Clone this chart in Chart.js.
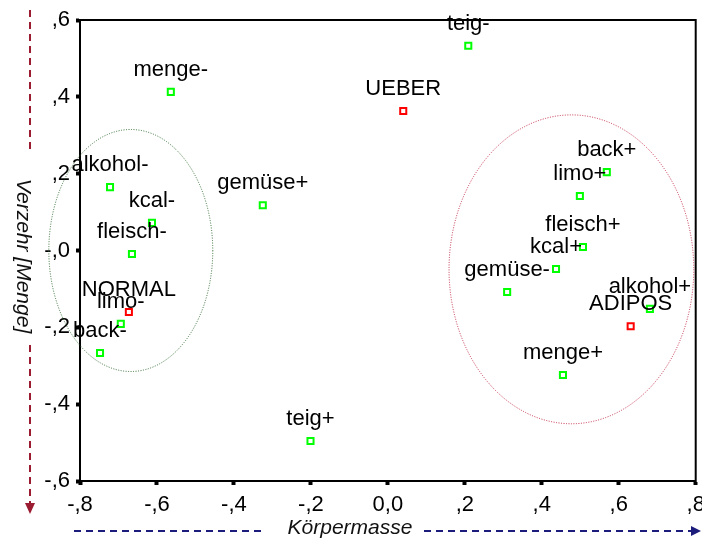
<!DOCTYPE html>
<html>
<head>
<meta charset="utf-8">
<script src="https://cdn.jsdelivr.net/npm/chart.js@4"></script>
<style>
  body { margin: 0; background: #fff; }
  canvas { display: block; }
</style>
</head>
<body>
<canvas id="chart" width="702" height="545"></canvas>
<script>
// category points (green) and group points (red)
const catNames = ['teig-', 'menge-', 'alkohol-', 'kcal-', 'fleisch-', 'gemüse+', 'limo-', 'back-', 'teig+',
  'back+', 'limo+', 'fleisch+', 'kcal+', 'gemüse-', 'alkohol+', 'menge+'];
const catX = [0.209, -0.564, -0.722, -0.613, -0.665, -0.325, -0.694, -0.748, -0.201,
  0.569, 0.499, 0.507, 0.437, 0.310, 0.681, 0.455];
const catY = [0.533, 0.413, 0.165, 0.072, -0.009, 0.118, -0.191, -0.267, -0.496,
  0.204, 0.142, 0.009, -0.048, -0.108, -0.152, -0.324];

const groupNames = ['UEBER', 'NORMAL', 'ADIPOS'];
const groupX = [0.040, -0.673, 0.631];
const groupY = [0.363, -0.160, -0.197];

// dotted cluster ellipses (data units)
const clusterCenterX = [-0.668, 0.477];
const clusterCenterY = [0.0, -0.049];
const clusterRadiusX = [0.213, 0.318];
const clusterRadiusY = [0.315, 0.402];
const clusterColors = ['rgba(40,100,40,0.9)', 'rgba(190,30,60,0.9)'];

const xTickLabels = ['-,8', '-,6', '-,4', '-,2', '0,0', ',2', ',4', ',6', ',8'];
const yTickLabels = ['-,6', '-,4', '-,2', '-,0', ',2', ',4', ',6'];

const xTitle = 'Körpermasse';
const yTitle = 'Verzehr [Menge]';

const fontFamily = "'Liberation Sans', Arial, sans-serif";

const toPoints = (xs, ys) => xs.map((x, i) => ({ x: x, y: ys[i] }));

const decorPlugin = {
  id: 'decor',
  beforeDraw(chart) {
    const ctx = chart.ctx;
    ctx.save();
    ctx.fillStyle = '#fff';
    ctx.fillRect(0, 0, chart.width, chart.height);
    ctx.restore();
  },
  beforeDatasetsDraw(chart) {
    const ctx = chart.ctx;
    const xs = chart.scales.x, ys = chart.scales.y;
    const area = chart.chartArea;
    ctx.save();
    // frame
    ctx.strokeStyle = '#000';
    ctx.lineWidth = 2;
    ctx.strokeRect(area.left, area.top, area.right - area.left, area.bottom - area.top);
    // ellipses
    ctx.lineWidth = 1;
    ctx.setLineDash([1, 1.5]);
    clusterCenterX.forEach((cx, i) => {
      const px = xs.getPixelForValue(cx);
      const py = ys.getPixelForValue(clusterCenterY[i]);
      const rx = Math.abs(xs.getPixelForValue(cx + clusterRadiusX[i]) - px);
      const ry = Math.abs(ys.getPixelForValue(clusterCenterY[i] + clusterRadiusY[i]) - py);
      ctx.strokeStyle = clusterColors[i];
      ctx.beginPath();
      ctx.ellipse(px, py, rx, ry, 0, 0, Math.PI * 2);
      ctx.stroke();
    });
    ctx.restore();
  },
  afterDatasetsDraw(chart) {
    const ctx = chart.ctx;
    ctx.save();
    ctx.font = '22px ' + fontFamily;
    ctx.fillStyle = '#000';
    ctx.textAlign = 'center';
    ctx.textBaseline = 'alphabetic';
    chart.data.datasets.forEach((ds, d) => {
      const meta = chart.getDatasetMeta(d);
      meta.data.forEach((pt, i) => {
        ctx.fillText(ds.names[i], pt.x, pt.y - 16);
      });
    });
    ctx.restore();
  },
  afterDraw(chart) {
    const ctx = chart.ctx;
    ctx.save();
    ctx.lineWidth = 2;
    ctx.setLineDash([7, 5]);

    // y axis title with dashed arrow
    ctx.strokeStyle = '#9b1b30';
    ctx.fillStyle = '#9b1b30';
    ctx.beginPath();
    ctx.moveTo(30, 10); ctx.lineTo(30, 152);
    ctx.moveTo(30, 345); ctx.lineTo(30, 504);
    ctx.stroke();
    ctx.setLineDash([]);
    ctx.beginPath();
    ctx.moveTo(25, 503); ctx.lineTo(35, 503); ctx.lineTo(30, 514);
    ctx.closePath();
    ctx.fill();

    // x axis title with dashed arrow
    ctx.setLineDash([7, 5]);
    ctx.strokeStyle = '#1c1c7c';
    ctx.fillStyle = '#1c1c7c';
    ctx.beginPath();
    ctx.moveTo(74, 531); ctx.lineTo(264, 531);
    ctx.moveTo(424, 531); ctx.lineTo(692, 531);
    ctx.stroke();
    ctx.setLineDash([]);
    ctx.beginPath();
    ctx.moveTo(691, 526); ctx.lineTo(691, 536); ctx.lineTo(701, 531);
    ctx.closePath();
    ctx.fill();

    ctx.fillStyle = '#111';
    ctx.font = 'italic 21px ' + fontFamily;
    ctx.textAlign = 'center';
    ctx.textBaseline = 'middle';
    ctx.fillText(xTitle, 350, 528);

    ctx.translate(23, 256);
    ctx.rotate(Math.PI / 2);
    ctx.fillText(yTitle, 0, 0);
    ctx.restore();
  }
};

new Chart(document.getElementById('chart'), {
  type: 'scatter',
  data: {
    datasets: [
      {
        data: toPoints(catX, catY),
        names: catNames,
        pointStyle: 'rect',
        pointRadius: 4.3,
        pointBorderWidth: 2,
        borderColor: '#00ff00',
        backgroundColor: '#fff'
      },
      {
        data: toPoints(groupX, groupY),
        names: groupNames,
        pointStyle: 'rect',
        pointRadius: 4.3,
        pointBorderWidth: 2,
        borderColor: '#ff0000',
        backgroundColor: '#fff'
      }
    ]
  },
  options: {
    responsive: false,
    animation: false,
    devicePixelRatio: 1,
    layout: { padding: { left: 0, right: 5, top: 20, bottom: 0 } },
    plugins: { legend: { display: false }, tooltip: { enabled: false } },
    scales: {
      x: {
        type: 'linear',
        min: -0.8,
        max: 0.8,
        ticks: {
          stepSize: 0.2,
          autoSkip: false,
          maxRotation: 0,
          padding: 7,
          color: '#000',
          font: { family: fontFamily, size: 22 },
          callback: (v, i) => xTickLabels[i]
        },
        grid: { drawOnChartArea: false, tickLength: 4, tickWidth: 4, tickColor: '#000' },
        border: { color: '#000', width: 2 },
        afterFit(s) { s.height = 64; s.paddingLeft = 0; s.paddingRight = 0; }
      },
      y: {
        type: 'linear',
        min: -0.6,
        max: 0.6,
        ticks: {
          stepSize: 0.2,
          autoSkip: false,
          padding: 6,
          color: '#000',
          font: { family: fontFamily, size: 22 },
          callback: (v, i) => yTickLabels[i]
        },
        grid: { drawOnChartArea: false, tickLength: 4, tickWidth: 4, tickColor: '#000' },
        border: { color: '#000', width: 2 },
        afterFit(s) { s.width = 80; s.paddingTop = 0; s.paddingBottom = 0; }
      }
    }
  },
  plugins: [decorPlugin]
});
</script>
</body>
</html>
